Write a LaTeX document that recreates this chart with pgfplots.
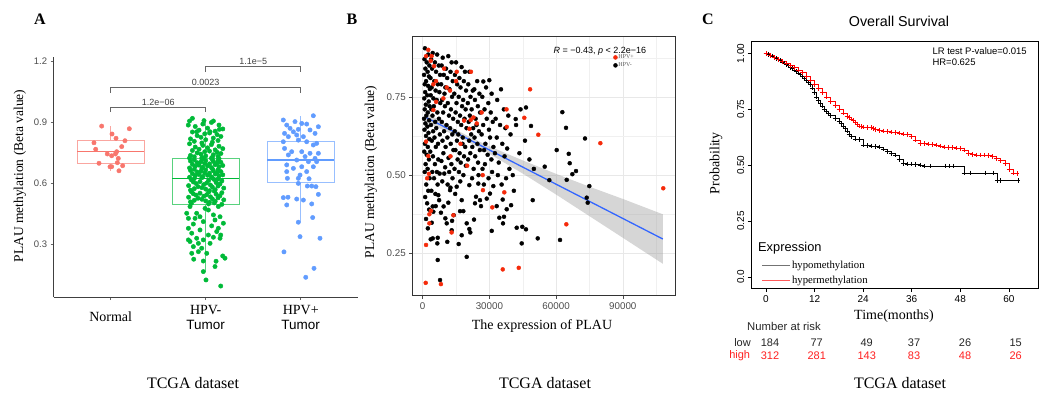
\documentclass[border=0pt]{standalone}
\usepackage{pgfplots}
\pgfplotsset{compat=1.18}
\usepgfplotslibrary{statistics}
\usepackage{pgfplotstable}
\usepackage{fontspec}
\setmainfont{Liberation Serif}
\newfontfamily\arial{Liberation Sans}
\newcommand{\fs}[2]{\fontsize{#1}{#2}\selectfont}
\definecolor{nred}{HTML}{F8766D}
\definecolor{tgreen}{HTML}{00BA38}
\definecolor{pblue}{HTML}{619CFF}
\definecolor{hpvred}{HTML}{F52A0A}
\definecolor{smblue}{HTML}{3366FF}
\definecolor{kmred}{HTML}{FF0000}
\definecolor{riskred}{HTML}{FF2020}

\pgfplotstableread{
t p
0 1.000
0.5 0.996
1 0.992
1.5 0.988
2 0.983
2.5 0.978
3 0.973
3.5 0.968
4 0.962
4.5 0.957
5 0.951
5.5 0.945
6 0.938
6.5 0.932
7 0.926
7.5 0.919
8 0.912
8.5 0.905
9 0.898
9.5 0.889
10 0.880
10.5 0.870
11 0.860
11.5 0.845
12 0.825
12.5 0.805
13 0.790
13.5 0.777
14 0.765
14.5 0.752
15 0.740
15.5 0.730
16 0.722
17 0.708
18 0.697
18.5 0.686
19 0.675
19.5 0.663
20 0.652
20.5 0.640
21 0.628
22 0.617
23 0.614
24 0.590
25 0.588
26 0.586
27 0.584
28 0.582
29 0.572
30 0.562
31 0.552
32 0.545
33 0.525
34 0.508
35 0.506
36 0.505
37 0.504
38 0.500
39 0.496
40.5 0.496
44.2 0.496
45.4 0.496
46.2 0.496
48.9 0.465
50.4 0.465
54.3 0.465
56.1 0.465
57.1 0.432
58 0.432
62.3 0.432
}\kmlow

\pgfplotstableread{
t p
0 1.000
1 0.990
2 0.982
3 0.973
4 0.964
5 0.956
6 0.946
7 0.936
8 0.925
9 0.913
10 0.897
11 0.880
12 0.860
13 0.843
14 0.824
15 0.805
16 0.786
17 0.768
18 0.750
19 0.733
20 0.718
20.5 0.712
21 0.706
21.5 0.699
22 0.692
22.5 0.684
23 0.675
23.5 0.672
24 0.670
25 0.668
26 0.668
26.5 0.665
27 0.660
28 0.656
29 0.653
30 0.650
31 0.648
32 0.645
33 0.643
34 0.640
35 0.636
36 0.628
37 0.612
38 0.598
39 0.596
40 0.594
41 0.592
42 0.590
43 0.585
44 0.582
45 0.580
46 0.578
47 0.576
48 0.575
49 0.568
50 0.552
51 0.548
52 0.546
53 0.545
54 0.545
55 0.544
56 0.538
57 0.530
58 0.520
59 0.507
60 0.480
61 0.465
62 0.462
}\kmhigh

\begin{document}
\begin{tikzpicture}[x=1pt,y=1pt]
\path[use as bounding box] (0pt,0pt) rectangle (1044pt,394pt);

% ---------------- Panel A ----------------
\begin{axis}[
  at={(53.7pt,97pt)}, anchor=south west, scale only axis,
  width=304pt, height=240pt,
  xmin=0.4, xmax=3.6, ymin=0.039, ymax=1.22,
  axis x line*=bottom, axis y line*=left,
  axis line style={black!75, line width=0.6pt},
  tick align=outside, major tick length=3pt,
  tick style={black!60, line width=0.5pt},
  xtick={1,2,3},
  xticklabels={{Normal},{HPV-\\{\arial\fs{13.5}{15}Tumor}},{HPV+\\{\arial\fs{13.5}{15}Tumor}}},
  xticklabel style={font=\fs{14}{15}, align=center, anchor=center, yshift=-17pt},
  ytick={0.3,0.6,0.9,1.2},
  yticklabels={0.3,0.6,0.9,1.2},
  yticklabel style={font=\fs{9.5}{11}\arial, text=black!70},
  boxplot/draw direction=y,
  clip=false,
]
\addplot[boxplot prepared={draw position=1, lower whisker=0.66, lower quartile=0.698, median=0.754, upper quartile=0.81, upper whisker=0.88, box extend=0.7, whisker extend=0, every median/.style={draw=nred, line width=1.3pt}},
  draw=nred!65, line width=0.8pt] coordinates {};
\addplot[boxplot prepared={draw position=2, lower whisker=0.164, lower quartile=0.495, median=0.621, upper quartile=0.72, upper whisker=0.912, box extend=0.7, whisker extend=0, every median/.style={draw=tgreen, line width=1.3pt}},
  draw=tgreen!65, line width=0.8pt] coordinates {};
\addplot[boxplot prepared={draw position=3, lower whisker=0.407, lower quartile=0.603, median=0.713, upper quartile=0.807, upper whisker=0.931, box extend=0.7, whisker extend=0, every median/.style={draw=pblue, line width=1.3pt}},
  draw=pblue!65, line width=0.8pt] coordinates {};

\addplot[only marks, mark=*, mark size=2.2pt, color=nred] coordinates {
(0.905,0.880)(1.196,0.867)(1.014,0.841)(1.056,0.820)(1.150,0.808)(0.824,0.798)(1.116,0.779)(0.842,0.766)(1.063,0.754)(0.964,0.743)(1.010,0.734)(1.050,0.743)(1.080,0.721)(0.877,0.697)(1.070,0.700)(0.993,0.680)(1.010,0.680)(1.126,0.685)(1.087,0.660)
};

\addplot[only marks, mark=*, mark size=2.2pt, color=tgreen] coordinates {
(1.860,0.918)(1.982,0.907)(2.081,0.905)(1.817,0.885)(2.144,0.864)(1.905,0.852)(2.046,0.852)
(1.83,0.905)(2.06,0.898)(1.97,0.890)(2.14,0.885)(1.89,0.878)(2.02,0.870)(2.18,0.866)(1.93,0.860)(2.10,0.855)(1.86,0.851)(2.04,0.846)(1.99,0.842)(2.12,0.838)(1.91,0.833)(2.16,0.829)(1.95,0.825)(2.08,0.821)(1.84,0.817)(2.00,0.813)(2.13,0.809)(1.88,0.805)(2.07,0.801)(1.96,0.797)
(1.83,0.793)(2.06,0.789)(1.97,0.785)(2.14,0.781)(1.89,0.777)(2.02,0.773)(2.18,0.769)(1.93,0.766)(2.10,0.763)(1.86,0.760)(2.04,0.757)(1.99,0.754)(2.12,0.751)(1.91,0.748)(2.16,0.745)(1.95,0.742)(2.08,0.739)(1.84,0.736)(2.00,0.733)(2.13,0.731)(1.88,0.729)(2.07,0.727)(1.96,0.725)(1.83,0.723)(2.06,0.722)(1.97,0.721)(2.14,0.720)
(1.96,0.718)(2.07,0.716)(1.88,0.714)(2.13,0.712)(2.00,0.710)(1.84,0.708)(2.08,0.706)(1.95,0.704)(2.16,0.702)(1.91,0.700)(2.12,0.698)(1.99,0.696)(2.04,0.694)(1.86,0.692)(2.10,0.690)(1.93,0.688)(2.18,0.686)(2.02,0.684)(1.89,0.682)(2.14,0.680)(1.97,0.678)(2.06,0.676)(1.83,0.674)
(1.96,0.672)(2.07,0.670)(1.88,0.668)(2.13,0.666)(2.00,0.664)(1.84,0.662)(2.08,0.660)(1.95,0.658)(2.16,0.656)(1.91,0.654)(2.12,0.652)(1.99,0.650)(2.04,0.648)(1.86,0.646)(2.10,0.644)(1.93,0.642)(2.18,0.640)(2.02,0.638)(1.89,0.636)(2.14,0.634)(1.97,0.632)(2.06,0.630)(1.83,0.628)(1.96,0.626)(2.07,0.624)(1.88,0.622)(2.13,0.620)
(2.09,0.617)(1.85,0.615)(2.03,0.612)(2.17,0.610)(1.94,0.607)(1.87,0.605)(2.11,0.602)(2.01,0.600)(1.90,0.597)(2.15,0.595)(1.98,0.592)(2.05,0.590)(1.82,0.587)(2.13,0.585)(1.92,0.582)(2.07,0.580)(1.96,0.577)(2.19,0.575)(1.88,0.572)(2.00,0.570)(2.10,0.567)(1.84,0.565)(2.04,0.562)
(2.09,0.560)(1.85,0.557)(2.03,0.555)(2.17,0.552)(1.94,0.550)(1.87,0.547)(2.11,0.545)(2.01,0.542)(1.90,0.540)(2.15,0.537)(1.98,0.535)(2.05,0.532)(1.82,0.530)(2.13,0.527)(1.92,0.525)(2.07,0.522)(1.96,0.520)(2.19,0.517)(1.88,0.515)(2.00,0.512)(2.10,0.510)(1.84,0.507)(2.04,0.505)(2.09,0.502)(1.85,0.500)(2.03,0.497)(2.17,0.495)
(1.835,0.484)(1.993,0.475)(2.133,0.484)(1.905,0.451)(2.081,0.443)(1.818,0.426)(2.151,0.434)(1.975,0.410)(1.870,0.398)(2.063,0.389)(2.186,0.402)(1.818,0.377)(1.940,0.369)(2.116,0.361)(1.853,0.353)(2.028,0.344)(2.158,0.344)(1.905,0.328)(2.081,0.333)(1.835,0.312)(1.975,0.320)(1.870,0.287)(1.958,0.279)(2.011,0.254)(1.923,0.262)(1.874,0.225)(1.975,0.216)(2.109,0.215)(2.179,0.241)(2.203,0.230)(2.098,0.189)(1.975,0.164)(2.003,0.123)(2.158,0.093)(1.800,0.451)(2.028,0.467)(2.133,0.377)(2.046,0.303)(1.923,0.303)(1.818,0.320)(2.098,0.418)(1.940,0.434)(1.888,0.426)(2.151,0.328)(1.853,0.254)
};

\addplot[only marks, mark=*, mark size=2.2pt, color=pblue] coordinates {
(2.817,0.910)(3.133,0.931)(3.011,0.893)(2.853,0.885)(2.940,0.902)(3.063,0.890)(2.888,0.869)(2.975,0.864)(2.923,0.852)(2.830,0.844)(3.098,0.861)(3.186,0.877)(3.151,0.844)(3.028,0.828)(2.958,0.836)(2.870,0.828)(2.817,0.803)(3.063,0.803)(2.975,0.811)(3.133,0.787)(3.168,0.795)(2.830,0.770)(2.905,0.754)(3.011,0.754)(3.098,0.746)(3.186,0.746)(2.870,0.738)(3.046,0.730)(3.151,0.721)(2.958,0.713)(3.081,0.705)(3.168,0.705)(2.853,0.689)(3.011,0.680)(2.923,0.672)(3.133,0.680)(2.853,0.656)(3.063,0.656)(2.993,0.639)(2.860,0.623)(2.975,0.623)(3.088,0.621)(2.975,0.598)(3.070,0.585)(3.116,0.585)(3.160,0.582)(3.186,0.544)(2.817,0.528)(2.866,0.530)(2.958,0.521)(3.028,0.516)(2.853,0.492)(3.116,0.497)(3.126,0.430)(2.975,0.407)(2.993,0.336)(3.203,0.328)(2.824,0.261)(3.140,0.180)(3.053,0.136)
};

\draw[black!60, line width=0.6pt] (axis cs:1,0.949) -- (axis cs:1,0.972) -- (axis cs:2,0.972) -- (axis cs:2,0.949);
\node[anchor=south, inner sep=1.5pt, font=\fs{9}{10}\arial, text=black!75] at (axis cs:1.5,0.972) {1.2e−06};
\draw[black!60, line width=0.6pt] (axis cs:1,1.044) -- (axis cs:1,1.070) -- (axis cs:3,1.070) -- (axis cs:3,1.044);
\node[anchor=south, inner sep=1.5pt, font=\fs{9}{10}\arial, text=black!75] at (axis cs:2,1.070) {0.0023};
\draw[black!60, line width=0.6pt] (axis cs:2,1.146) -- (axis cs:2,1.172) -- (axis cs:3,1.172) -- (axis cs:3,1.146);
\node[anchor=south, inner sep=1.5pt, font=\fs{9}{10}\arial, text=black!75] at (axis cs:2.5,1.172) {1.1e−5};
\end{axis}

% ---------------- Panel B ----------------
\begin{axis}[
  at={(412.3pt,98.3pt)}, anchor=south west, scale only axis,
  width=262.7pt, height=259pt,
  xmin=-4680, xmax=113480, ymin=0.115, ymax=0.942,
  axis line style={black!80, line width=0.6pt},
  tick align=outside, major tick length=3pt, minor tick length=0pt,
  tick style={black!70, line width=0.5pt}, tick pos=left,
  xtick={0,30000,60000,90000}, xticklabels={0,30000,60000,90000},
  minor xtick={15000,45000,75000,105000},
  ytick={0.25,0.5,0.75}, yticklabels={0.25,0.50,0.75},
  minor ytick={0.375,0.625,0.875},
  grid=both,
  major grid style={black!9, line width=0.6pt},
  minor grid style={black!6, line width=0.35pt},
  ticklabel style={font=\fs{9.8}{11}\arial, text=black!70},
  scaled ticks=false,
  legend style={at={(0.765,0.935)}, anchor=north west, draw=none, fill=none,
    font=\fs{6}{7}, text=black!65, inner sep=0pt, row sep=0.5pt,
    nodes={inner sep=1pt}},
  legend cell align=left, reverse legend,
]
\addplot[only marks, mark=*, mark size=2pt, color=black] table[x=x,y=y] {
x y
1000 0.905
2500 0.885
800 0.87
1800 0.86
3000 0.85
1200 0.84
2200 0.83
600 0.82
2800 0.815
1500 0.80
900 0.79
2400 0.785
3200 0.775
1100 0.765
2000 0.755
700 0.745
2700 0.735
1400 0.725
3100 0.72
900 0.71
2300 0.70
1600 0.69
600 0.68
2900 0.675
1200 0.665
2100 0.655
800 0.645
2600 0.635
1500 0.625
3000 0.615
1000 0.60
2300 0.59
700 0.575
1800 0.565
2800 0.55
1300 0.535
2200 0.52
900 0.51
3100 0.49
1600 0.47
2500 0.45
1100 0.43
2000 0.41
2900 0.39
1500 0.36
2300 0.33
4500 0.89
6500 0.885
3800 0.87
5500 0.86
7200 0.85
4200 0.84
6000 0.83
7800 0.82
3500 0.81
5200 0.80
6800 0.79
4000 0.78
5800 0.77
7500 0.765
3600 0.755
4800 0.745
6300 0.74
7900 0.73
5000 0.72
3900 0.71
6600 0.70
4400 0.69
7300 0.68
5600 0.67
3700 0.66
6100 0.65
4700 0.64
7700 0.63
5300 0.62
4100 0.61
6900 0.60
5900 0.59
3400 0.575
4600 0.56
7000 0.55
5500 0.535
6400 0.51
4300 0.51
7600 0.505
5100 0.49
6700 0.47
3900 0.45
5700 0.44
7400 0.42
4500 0.40
5850 0.401
4770 0.383
4050 0.348
6580 0.282
6750 0.300
4500 0.298
3600 0.295
6750 0.229
7790 0.165
7020 0.436
9000 0.875
11500 0.88
13000 0.86
8500 0.85
10500 0.84
12500 0.83
9500 0.82
11000 0.81
13500 0.80
8300 0.79
10200 0.78
12000 0.775
9800 0.76
13200 0.75
8700 0.74
11300 0.73
10000 0.72
12700 0.71
9200 0.70
11800 0.69
13700 0.68
8600 0.67
10700 0.66
12300 0.65
9600 0.64
13300 0.63
11100 0.62
8900 0.61
12600 0.60
10300 0.59
13800 0.58
9300 0.57
11600 0.555
8400 0.545
12900 0.535
10100 0.525
11900 0.51
9700 0.505
13400 0.49
8800 0.48
11200 0.47
12500 0.46
12280 0.452
11520 0.412
10800 0.346
10190 0.362
13200 0.354
13040 0.324
11060 0.287
13940 0.372
9400 0.40
8200 0.38
15000 0.86
17500 0.845
19000 0.83
14500 0.82
16500 0.81
18500 0.80
15500 0.79
17000 0.78
19500 0.77
14200 0.76
16200 0.75
18200 0.74
15200 0.73
17700 0.72
19300 0.71
14800 0.70
16800 0.69
18800 0.68
15800 0.67
17300 0.66
19700 0.65
14400 0.64
16000 0.63
18000 0.62
15400 0.61
17900 0.60
19100 0.59
14700 0.58
16600 0.57
18600 0.56
15700 0.55
17100 0.54
19400 0.53
14300 0.52
16300 0.51
18300 0.50
15290 0.463
16800 0.385
18270 0.385
17540 0.420
17540 0.308
16190 0.280
19790 0.346
19790 0.239
14600 0.44
16900 0.48
21000 0.83
23200 0.774
24500 0.80
20500 0.79
22500 0.77
25500 0.76
21500 0.75
23500 0.74
20300 0.73
24800 0.72
22000 0.71
25800 0.70
21200 0.69
23800 0.68
20700 0.67
24200 0.66
22700 0.65
25300 0.64
21800 0.63
23300 0.62
20900 0.61
24600 0.60
22300 0.59
25700 0.58
21400 0.57
23600 0.56
20400 0.55
24900 0.54
22900 0.52
25100 0.50
20960 0.468
25010 0.473
23970 0.431
25770 0.420
26220 0.401
23520 0.410
23080 0.358
20960 0.328
21400 0.317
22200 0.49
27260 0.799
29960 0.803
28500 0.78
31000 0.76
26800 0.75
29500 0.73
27800 0.71
30600 0.70
28800 0.68
31500 0.67
27200 0.66
29800 0.645
26500 0.63
30300 0.62
28200 0.60
31800 0.59
27600 0.58
29200 0.565
30900 0.55
28000 0.535
26900 0.52
31200 0.51
29600 0.49
28790 0.425
30270 0.441
31760 0.465
31040 0.322
27500 0.47
35220 0.774
33500 0.74
36500 0.71
38500 0.69
32800 0.68
34800 0.66
37200 0.65
39500 0.63
33300 0.62
35800 0.60
38000 0.585
32500 0.57
36800 0.56
34200 0.54
39000 0.52
33800 0.50
37500 0.49
35500 0.47
33280 0.401
36570 0.367
35980 0.422
34470 0.364
37780 0.391
39760 0.404
36120 0.346
44000 0.71
46460 0.716
41830 0.679
48710 0.657
42000 0.66
46000 0.61
43500 0.57
48000 0.55
50000 0.52
40500 0.50
49480 0.420
42280 0.332
44800 0.335
46460 0.327
44530 0.282
51730 0.298
62800 0.701
64460 0.651
73000 0.617
60270 0.580
65680 0.568
66120 0.538
54880 0.527
68950 0.513
67300 0.503
64770 0.485
56950 0.484
74940 0.465
73770 0.428
74220 0.412
61760 0.293
41000 0.45
};
\addlegendentry{HPV-}
\addplot[only marks, mark=*, mark size=2pt, color=hpvred] table[x=x,y=y] {
x y
1500 0.88
2500 0.90
4000 0.88
3600 0.865
5100 0.848
6000 0.80
4800 0.79
9600 0.84
10800 0.78
12300 0.77
15300 0.83
15000 0.80
21700 0.83
9300 0.745
6000 0.734
4800 0.708
26500 0.70
37700 0.71
22800 0.684
18600 0.674
21600 0.676
24300 0.665
37800 0.654
45700 0.683
48300 0.774
52000 0.629
79900 0.602
1500 0.607
21000 0.648
2500 0.561
108200 0.458
64600 0.343
36700 0.445
27100 0.452
31300 0.397
13800 0.372
13000 0.317
3000 0.375
3000 0.346
3700 0.386
1500 0.277
1350 0.156
8200 0.152
36000 0.199
43200 0.204
2000 0.49
2800 0.504
20000 0.53
12500 0.56
27000 0.50
17000 0.60
};
\addlegendentry{HPV+}
\addplot[fill=black!40, fill opacity=0.4, draw=none, forget plot] coordinates {
(1000,0.702)(10000,0.664)(20000,0.626)(30000,0.592)(45000,0.547)(60000,0.504)(75000,0.463)(90000,0.424)(108000,0.375)
(108000,0.217)(90000,0.300)(75000,0.369)(60000,0.438)(45000,0.505)(30000,0.568)(20000,0.608)(10000,0.642)(1000,0.670)
} -- cycle;
\addplot[smblue, line width=1.3pt, forget plot] coordinates {(1000,0.686)(108000,0.296)};
\node[anchor=west, inner sep=0pt, font=\fs{9}{10}\arial] at (rel axis cs:0.537,0.944) {\textit{R} = −0.43, \textit{p} < 2.2e−16};
\end{axis}

% ---------------- Panel C ----------------
\begin{axis}[
  at={(751.7pt,106pt)}, anchor=south west, scale only axis,
  width=286.3pt, height=246.3pt,
  xmin=-3.53, xmax=67.2, ymin=-0.049, ymax=1.052,
  axis line style={black, line width=0.6pt},
  tick align=outside, major tick length=4pt,
  tick style={black, line width=0.5pt}, tick pos=left,
  xtick={0,12,24,36,48,60}, xticklabels={0,12,24,36,48,60},
  ytick={0,0.25,0.5,0.75,1}, yticklabels={0.0,0.25,0.50,0.75,1.00},
  ticklabel style={font=\fs{10}{12}\arial},
  yticklabel style={rotate=90, anchor=south},
  legend style={at={(0.035,0.115)}, anchor=north west, draw=none, fill=none,
    font=\fs{10.7}{12}, inner sep=0pt, row sep=2.5pt, nodes={inner sep=1.5pt}},
  legend cell align=left,
]
\addplot[const plot, black, line width=0.6pt, forget plot] table[x=t,y=p] {\kmlow};
\addplot[const plot, kmred, line width=0.6pt, forget plot] table[x=t,y=p] {\kmhigh};
\addplot[only marks, mark=+, mark size=2.3pt, black, line width=0.6pt, forget plot] table[x=t,y=p] {\kmlow};
\addplot[only marks, mark=+, mark size=2.3pt, kmred, line width=0.6pt, forget plot] table[x=t,y=p] {\kmhigh};
\addlegendimage{black!55, line width=0.7pt, legend image code/.code={\path (0pt,0pt) -- (28pt,0pt); \draw[black!55, line width=0.7pt] (0pt,0pt) -- (24pt,0pt);}}
\addlegendentry{hypomethylation}
\addlegendimage{kmred!65, line width=0.7pt, legend image code/.code={\path (0pt,0pt) -- (28pt,0pt); \draw[kmred!65, line width=0.7pt] (0pt,0pt) -- (24pt,0pt);}}
\addlegendentry{hypermethylation}
\end{axis}

% ---------------- Texts ----------------
\node[font=\fs{16}{18}\bfseries] at (40pt,375pt) {A};
\node[font=\fs{16}{18}\bfseries] at (352pt,375pt) {B};
\node[font=\fs{16}{18}\bfseries] at (708pt,375pt) {C};

\node[rotate=90, font=\fs{13.5}{15}] at (20pt,218pt) {PLAU methylation (Beta value)};
\node[rotate=90, font=\fs{13.5}{15}] at (371pt,222pt) {PLAU methylation (Beta value)};
\node[rotate=90, font=\fs{14}{15}] at (716pt,230.7pt) {Probability};

\node[font=\fs{14}{15}] at (542pt,68.3pt) {The expression of PLAU};
\node[font=\fs{14}{15}] at (894pt,78.3pt) {Time(months)};
\node[font=\fs{14.3}{16}\arial] at (899pt,372.3pt) {Overall Survival};

\node[anchor=west, inner sep=0pt, font=\fs{9.5}{11}\arial] at (932.3pt,343pt) {LR test P-value=0.015};
\node[anchor=west, inner sep=0pt, font=\fs{9.5}{11}\arial] at (932.3pt,332pt) {HR=0.625};
\node[anchor=west, inner sep=0pt, font=\fs{12.8}{14}\arial] at (758pt,146.3pt) {Expression};

\node[anchor=west, inner sep=0pt, font=\fs{11.3}{13}\arial, text=black!85] at (747pt,67.3pt) {Number at risk};
\node[anchor=east, inner sep=0pt, font=\fs{11}{13}\arial, text=black!85] at (751pt,51.3pt) {low};
\node[anchor=east, inner sep=0pt, font=\fs{11}{13}\arial, text=riskred] at (750.3pt,38.3pt) {high};
\foreach \x/\a/\b in {770/184/312, 816.7/77/281, 866.7/49/143, 914/37/83, 965/26/48, 1015.7/15/26} {
  \node[inner sep=0pt, font=\fs{11}{13}\arial, text=black!85] at (\x pt,51.3pt) {\a};
  \node[inner sep=0pt, font=\fs{11}{13}\arial, text=riskred] at (\x pt,38.3pt) {\b};
}

\node[font=\fs{16}{18}] at (193pt,10.7pt) {TCGA dataset};
\node[font=\fs{16}{18}] at (545pt,10.7pt) {TCGA dataset};
\node[font=\fs{16}{18}] at (900pt,10.7pt) {TCGA dataset};
\end{tikzpicture}
\end{document}
